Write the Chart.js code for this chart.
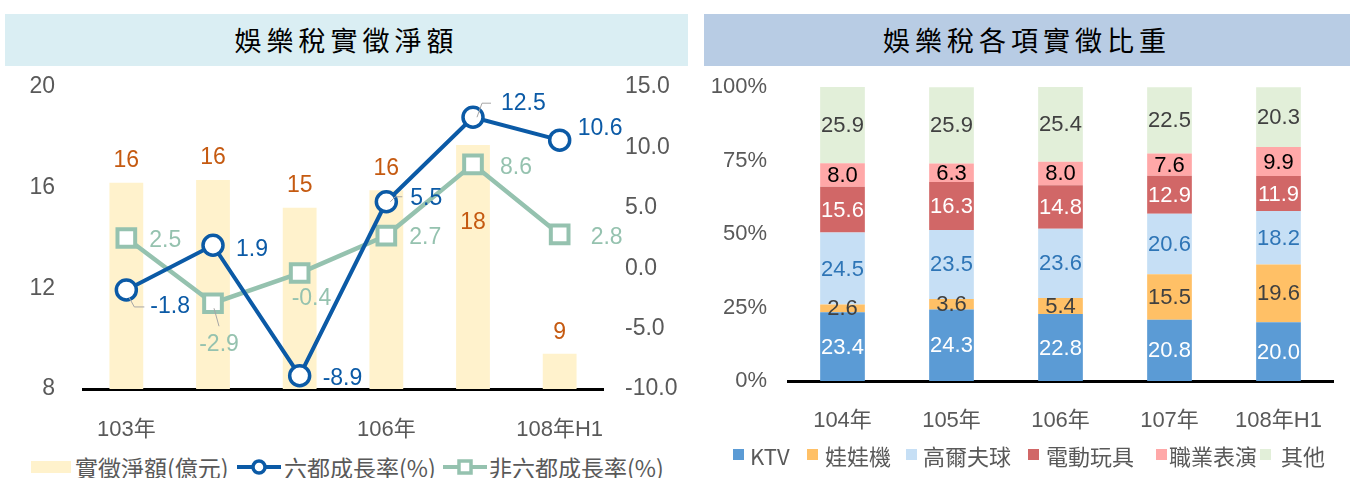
<!DOCTYPE html>
<html>
<head>
<meta charset="utf-8">
<script src="https://cdn.jsdelivr.net/npm/chart.js@4/dist/chart.umd.min.js"></script>
<style>
  body { margin: 0; width: 1354px; height: 478px; position: relative; background: #fff; overflow: hidden; }
  .band { position: absolute; top: 14px; height: 52px; line-height: 52px; text-align: center;
    font-family: "Noto Sans CJK TC", sans-serif; font-size: 27px; letter-spacing: 5px; color: #000; }
  .box { position: absolute; }
  .lg { position: absolute; font-family: "Noto Sans CJK TC", sans-serif; font-size: 22px; color: #595959;
    white-space: nowrap; height: 26px; line-height: 26px; }
  .lg.big { font-size: 23px; }
  .sw { position: absolute; }
</style>
</head>
<body>
<div class="band" style="left:5px; width:683px; background:#DAEEF3;">娛樂稅實徵淨額</div>
<div class="band" style="left:704px; width:646px; background:#B8CCE4;">娛樂稅各項實徵比重</div>

<div class="box" style="left:0; top:60px; width:695px; height:390px;"><canvas id="left-chart"></canvas></div>
<div class="box" style="left:695px; top:60px; width:659px; height:380px;"><canvas id="right-chart"></canvas></div>

<!-- left legend -->
<div class="sw" style="left:31px; top:461px; width:40px; height:12px; background:#FFF2CC;"></div>
<div class="lg big" style="left:75px; top:454px;">實徵淨額(億元)</div>
<svg class="sw" style="left:237px; top:457px;" width="44" height="20">
  <line x1="0" y1="10" x2="44" y2="10" stroke="#0B5AA6" stroke-width="4"/>
  <circle cx="22" cy="10" r="6" fill="#fff" stroke="#0B5AA6" stroke-width="3.5"/>
</svg>
<div class="lg big" style="left:284px; top:454px;">六都成長率(%)</div>
<svg class="sw" style="left:443px; top:457px;" width="44" height="20">
  <line x1="0" y1="10" x2="44" y2="10" stroke="#95C2AF" stroke-width="4"/>
  <rect x="16" y="4" width="12" height="12" fill="#fff" stroke="#95C2AF" stroke-width="3.5"/>
</svg>
<div class="lg big" style="left:489px; top:454px;">非六都成長率(%)</div>

<!-- right legend -->
<div id="right-legend"></div>

<script>
  const years = ["103年", "104年", "105年", "106年", "107年", "108年H1"];
  const shownYears = [0, 3, 5];
  const netAmount = [16.2, 16.3, 15.2, 15.9, 17.7, 9.4];
  const sixCityGrowth = [-1.8, 1.9, -8.9, 5.5, 12.5, 10.6];
  const otherCityGrowth = [2.5, -2.9, -0.4, 2.7, 8.6, 2.8];

  const shareYears = ["104年", "105年", "106年", "107年", "108年H1"];
  const ktv = [23.4, 24.3, 22.8, 20.8, 20.0];
  const clawMachine = [2.6, 3.6, 5.4, 15.5, 19.6];
  const golf = [24.5, 23.5, 23.6, 20.6, 18.2];
  const arcade = [15.6, 16.3, 14.8, 12.9, 11.9];
  const performance = [8.0, 6.3, 8.0, 7.6, 9.9];
  const others = [25.9, 25.9, 25.4, 22.5, 20.3];

  const gray = "#595959";
  const blue = "#0B5AA6";
  const green = "#95C2AF";
  const numFont = "'Liberation Sans', Arial, sans-serif";
  const mixFont = "'Liberation Sans', 'Noto Sans CJK TC', sans-serif";

  // label placement tweaks (dx, dy, align) per point
  const barLabelShift = [-22, -22, -22, -22, 78, -21];
  const sixNudge = [[24, 17, "left"], [23, 4, "left"], [23, 3, "left"], [24, -3, "left"], [28, -14, "left"], [18, -11, "left"]];
  const otherNudge = [[23, 3, "left"], [6, 41, "center"], [-8, 26, "left"], [23, 2, "left"], [27, 3, "left"], [31, 3, "left"]];
  const sixLeaders = { 0: [[3, 8], [8, 17], [18, 17]], 3: [[4, 0], [9, -5], [16, -5]], 4: [[4, 0], [9, -14], [18, -14]] };
  const otherLeaders = { 1: [[1, 5], [6, 23]] };

  // fixed axis width; drop the label overhang so the plot top follows layout.padding
  const fixWidth = (w) => (scale) => {
    scale.width = w;
    scale.paddingTop = 0;
    scale.paddingBottom = 0;
  };

  function drawLeader(ctx, pt, path) {
    ctx.beginPath();
    ctx.moveTo(pt.x + path[0][0], pt.y + path[0][1]);
    path.slice(1).forEach((p) => ctx.lineTo(pt.x + p[0], pt.y + p[1]));
    ctx.strokeStyle = "#A6A6A6";
    ctx.lineWidth = 1;
    ctx.stroke();
  }

  const leftLabels = {
    id: "leftLabels",
    afterDatasetsDraw(chart) {
      const ctx = chart.ctx;
      ctx.save();
      ctx.font = "23px " + numFont;
      ctx.textBaseline = "middle";

      chart.getDatasetMeta(2).data.forEach((bar, i) => {
        ctx.fillStyle = "#C55A11";
        ctx.textAlign = "center";
        ctx.fillText(Math.round(netAmount[i]), bar.x, bar.y + barLabelShift[i]);
      });

      const lines = [
        { meta: 0, values: sixCityGrowth, nudge: sixNudge, leaders: sixLeaders, color: blue },
        { meta: 1, values: otherCityGrowth, nudge: otherNudge, leaders: otherLeaders, color: green },
      ];
      lines.forEach((line) => {
        chart.getDatasetMeta(line.meta).data.forEach((pt, i) => {
          if (line.leaders[i]) drawLeader(ctx, pt, line.leaders[i]);
          const n = line.nudge[i];
          ctx.fillStyle = line.color;
          ctx.textAlign = n[2];
          ctx.fillText(line.values[i].toFixed(1), pt.x + n[0], pt.y + n[1]);
        });
      });
      ctx.restore();
    },
  };

  new Chart(document.getElementById("left-chart"), {
    data: {
      labels: years,
      datasets: [
        {
          type: "line",
          label: "六都成長率(%)",
          data: sixCityGrowth,
          yAxisID: "y1",
          borderColor: blue,
          borderWidth: 4,
          pointRadius: 10,
          pointBorderWidth: 3.5,
          pointBackgroundColor: "#fff",
          pointBorderColor: blue,
          tension: 0,
          order: 0,
        },
        {
          type: "line",
          label: "非六都成長率(%)",
          data: otherCityGrowth,
          yAxisID: "y1",
          borderColor: green,
          borderWidth: 4.5,
          pointStyle: "rect",
          pointRadius: 12.5,
          pointBorderWidth: 4,
          pointBackgroundColor: "#fff",
          pointBorderColor: green,
          tension: 0,
          order: 1,
        },
        {
          type: "bar",
          label: "實徵淨額(億元)",
          data: netAmount,
          yAxisID: "y",
          backgroundColor: "#FFF2CC",
          barPercentage: 0.39,
          categoryPercentage: 1,
          order: 2,
        },
      ],
    },
    options: {
      responsive: true,
      maintainAspectRatio: false,
      animation: false,
      layout: { padding: { top: 27, left: 0, right: 0, bottom: 0 } },
      scales: {
        x: {
          grid: { display: false, drawTicks: false },
          border: { color: "#000", width: 3 },
          ticks: {
            color: gray,
            font: { family: mixFont, size: 22 },
            padding: 28,
            autoSkip: false,
            maxRotation: 0,
            callback: (v, i) => (shownYears.includes(i) ? years[i] : ""),
          },
          afterFit: (scale) => { scale.height = 61; },
        },
        y: {
          position: "left",
          min: 8,
          max: 20,
          grid: { display: false, drawTicks: false },
          border: { display: false },
          ticks: { stepSize: 4, color: gray, font: { family: numFont, size: 23 }, padding: 28 },
          afterFit: fixWidth(83),
        },
        y1: {
          position: "right",
          min: -10,
          max: 15,
          grid: { display: false, drawTicks: false },
          border: { display: false },
          ticks: {
            stepSize: 5,
            color: gray,
            font: { family: numFont, size: 23 },
            padding: 22,
            callback: (v) => v.toFixed(1),
          },
          afterFit: fixWidth(92),
        },
      },
      plugins: { legend: { display: false }, tooltip: { enabled: false } },
    },
    plugins: [leftLabels],
  });

  const shareSeries = [
    { label: "KTV", data: ktv, color: "#5B9BD5", text: "#FFFFFF" },
    { label: "娃娃機", data: clawMachine, color: "#FFC066", text: "#404040" },
    { label: "高爾夫球", data: golf, color: "#C6DFF5", text: "#2E75B6" },
    { label: "電動玩具", data: arcade, color: "#D16767", text: "#FFFFFF" },
    { label: "職業表演", data: performance, color: "#FFA8A8", text: "#000000" },
    { label: "其他", data: others, color: "#E2EFD9", text: "#404040" },
  ];

  const rightLabels = {
    id: "rightLabels",
    afterDatasetsDraw(chart) {
      const ctx = chart.ctx;
      ctx.save();
      ctx.font = "22px " + numFont;
      ctx.textAlign = "center";
      ctx.textBaseline = "middle";
      shareSeries.forEach((s, d) => {
        chart.getDatasetMeta(d).data.forEach((bar, i) => {
          ctx.fillStyle = s.text;
          ctx.fillText(s.data[i].toFixed(1), bar.x, (bar.y + bar.base) / 2 + 1);
        });
      });
      ctx.restore();
    },
  };

  new Chart(document.getElementById("right-chart"), {
    type: "bar",
    data: {
      labels: shareYears,
      datasets: shareSeries.map((s) => ({
        label: s.label,
        data: s.data,
        backgroundColor: s.color,
        barPercentage: 0.41,
        categoryPercentage: 1,
      })),
    },
    options: {
      responsive: true,
      maintainAspectRatio: false,
      animation: false,
      layout: { padding: { top: 27, left: 0, right: 21, bottom: 0 } },
      scales: {
        x: {
          stacked: true,
          grid: { display: false, drawTicks: false },
          border: { color: "#000", width: 3 },
          ticks: { color: gray, font: { family: mixFont, size: 22 }, padding: 27, maxRotation: 0 },
          afterFit: (scale) => { scale.height = 59; },
        },
        y: {
          stacked: true,
          min: 0,
          max: 100,
          grid: { display: false, drawTicks: false },
          border: { display: false },
          ticks: {
            stepSize: 25,
            color: gray,
            font: { family: numFont, size: 22 },
            padding: 21,
            callback: (v) => v + "%",
          },
          afterFit: fixWidth(93),
        },
      },
      plugins: { legend: { display: false }, tooltip: { enabled: false } },
    },
    plugins: [rightLabels],
  });

  // right legend, built from the series list
  const legendPos = [[733, 750], [807, 825], [906, 923], [1028, 1046], [1156, 1169], [1260, 1281]];
  const legendBox = document.getElementById("right-legend");
  shareSeries.forEach((s, i) => {
    const sw = document.createElement("div");
    sw.className = "sw";
    sw.style.cssText = `left:${legendPos[i][0]}px; top:449px; width:11px; height:11px; background:${s.color};`;
    const tx = document.createElement("div");
    tx.className = "lg";
    tx.style.cssText = `left:${legendPos[i][1]}px; top:442px;`;
    tx.textContent = s.label;
    legendBox.appendChild(sw);
    legendBox.appendChild(tx);
  });
</script>
</body>
</html>
